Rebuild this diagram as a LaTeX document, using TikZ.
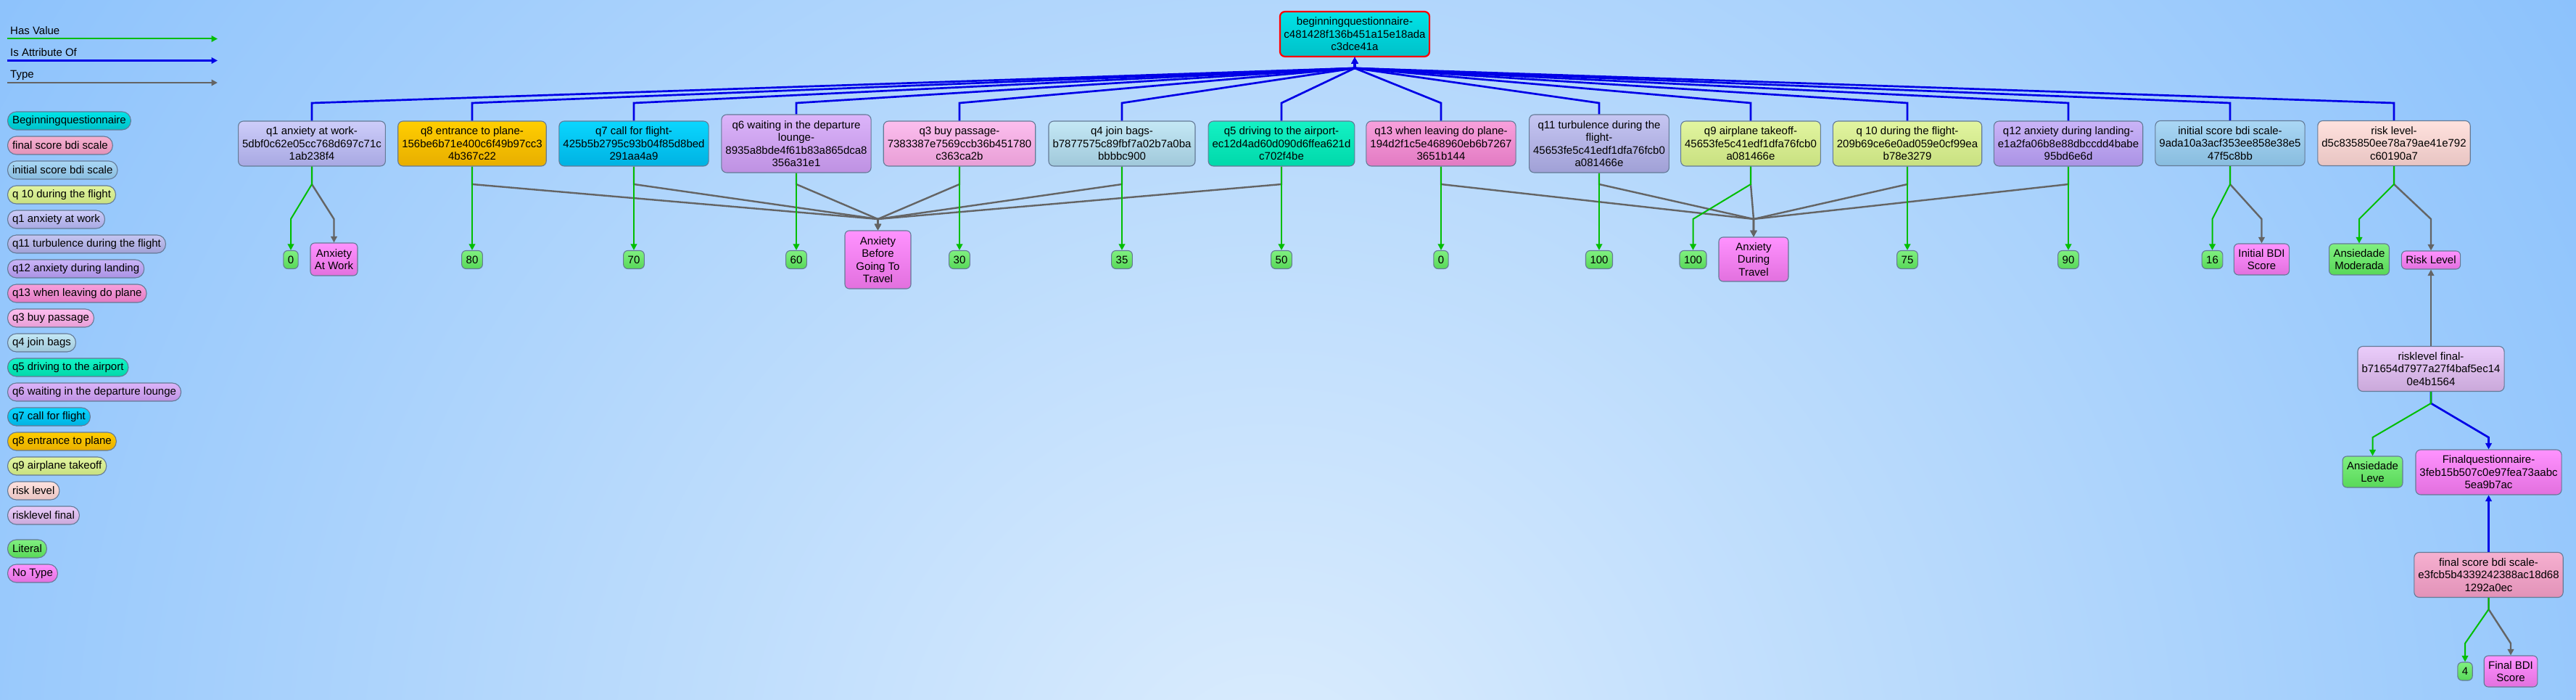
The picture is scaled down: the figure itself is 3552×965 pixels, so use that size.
\documentclass[tikz,border=0pt]{standalone}
\usepackage{fontspec}
\setmainfont{Liberation Sans}
\usepackage{tikz}
\usetikzlibrary{arrows.meta}

\definecolor{bgin}{RGB}{220,237,253}
\definecolor{bgout}{RGB}{110,178,251}
\definecolor{valgreen}{RGB}{0,190,0}
\definecolor{attrblue}{RGB}{0,0,230}
\definecolor{typegray}{RGB}{100,100,100}
\definecolor{boxline}{RGB}{100,122,150}
\definecolor{begT}{RGB}{0,228,232}
\definecolor{begB}{RGB}{0,192,200}
\definecolor{finT}{RGB}{246,176,208}
\definecolor{finB}{RGB}{226,146,184}
\definecolor{iniT}{RGB}{170,215,245}
\definecolor{iniB}{RGB}{136,188,222}
\definecolor{yelT}{RGB}{226,245,160}
\definecolor{yelB}{RGB}{200,224,128}
\definecolor{q1T}{RGB}{205,205,250}
\definecolor{q1B}{RGB}{168,168,226}
\definecolor{q11T}{RGB}{198,198,242}
\definecolor{q11B}{RGB}{160,160,214}
\definecolor{q12T}{RGB}{202,180,248}
\definecolor{q12B}{RGB}{170,146,228}
\definecolor{q13T}{RGB}{248,160,220}
\definecolor{q13B}{RGB}{226,122,194}
\definecolor{q3T}{RGB}{252,190,238}
\definecolor{q3B}{RGB}{232,158,214}
\definecolor{q4T}{RGB}{196,232,245}
\definecolor{q4B}{RGB}{160,200,218}
\definecolor{q5T}{RGB}{20,242,196}
\definecolor{q5B}{RGB}{0,216,170}
\definecolor{q6T}{RGB}{220,180,250}
\definecolor{q6B}{RGB}{190,145,226}
\definecolor{q7T}{RGB}{10,214,255}
\definecolor{q7B}{RGB}{0,178,226}
\definecolor{q8T}{RGB}{255,206,0}
\definecolor{q8B}{RGB}{232,174,0}
\definecolor{riskT}{RGB}{255,226,222}
\definecolor{riskB}{RGB}{232,196,194}
\definecolor{rlfT}{RGB}{234,204,250}
\definecolor{rlfB}{RGB}{202,168,218}
\definecolor{litT}{RGB}{128,240,128}
\definecolor{litB}{RGB}{88,216,88}
\definecolor{noT}{RGB}{255,146,255}
\definecolor{noB}{RGB}{226,112,222}

\newcommand{\entfont}{\fontsize{15}{17.5}\selectfont}

\tikzset{
  ent/.style={draw=boxline,line width=1.1pt,rounded corners=7pt,align=center,
    font=\entfont,inner xsep=5.5pt,inner ysep=2pt,minimum height=62pt},
  lit/.style={ent,top color=litT,bottom color=litB,inner xsep=6pt,
    minimum height=25pt,rounded corners=6pt},
  notype/.style={ent,top color=noT,bottom color=noB,inner xsep=6pt,
    minimum height=25pt,rounded corners=6pt},
  pill/.style={ent,anchor=west,rounded corners=12pt,inner xsep=6.5pt,minimum height=25pt},
  beg/.style={top color=begT,bottom color=begB},
  finsc/.style={top color=finT,bottom color=finB},
  inisc/.style={top color=iniT,bottom color=iniB},
  qten/.style={top color=yelT,bottom color=yelB},
  qnine/.style={top color=yelT,bottom color=yelB},
  qone/.style={top color=q1T,bottom color=q1B},
  qeleven/.style={top color=q11T,bottom color=q11B},
  qtwelve/.style={top color=q12T,bottom color=q12B},
  qthirteen/.style={top color=q13T,bottom color=q13B},
  qthree/.style={top color=q3T,bottom color=q3B},
  qfour/.style={top color=q4T,bottom color=q4B},
  qfive/.style={top color=q5T,bottom color=q5B},
  qsix/.style={top color=q6T,bottom color=q6B},
  qseven/.style={top color=q7T,bottom color=q7B},
  qeight/.style={top color=q8T,bottom color=q8B},
  risklv/.style={top color=riskT,bottom color=riskB},
  riskfin/.style={top color=rlfT,bottom color=rlfB},
  literal/.style={top color=litT,bottom color=litB},
  notyped/.style={top color=noT,bottom color=noB},
  hasval/.style={draw=valgreen,line width=2pt,->},
  isattr/.style={draw=attrblue,line width=2.7pt,->},
  typeof/.style={draw=typegray,line width=2.4pt,->},
}

\begin{document}
\begin{tikzpicture}[x=1pt,y=-1pt,>={Triangle[length=8.5pt,width=8.5pt]}]
  \useasboundingbox (0,0) rectangle (3552,965);
  \begin{scope}
    \clip (0,0) rectangle (3552,965);
    \shade[inner color=bgin,outer color=bgout] (1750,1100) circle (2900pt);
  \end{scope}

  % legend
  \node[anchor=base west,font=\entfont,inner sep=0pt] (lhv) at (14,48) {Has Value};
  \node[anchor=base west,font=\entfont,inner sep=0pt] (lia) at (14,78) {Is Attribute Of};
  \node[anchor=base west,font=\entfont,inner sep=0pt] (lty) at (14,108) {Type};
  \coordinate (lhva) at (10,53.5);
  \coordinate (lhvb) at (300,53.5);
  \coordinate (liaa) at (10,83.5);
  \coordinate (liab) at (300,83.5);
  \coordinate (ltya) at (10,114);
  \coordinate (ltyb) at (300,114);
  \draw[hasval] (lhva) -- (lhvb);
  \draw[isattr] (liaa) -- (liab);
  \draw[typeof] (ltya) -- (ltyb);

  \node[pill,beg] (pbeg) at (10,166.5) {Beginningquestionnaire};
  \node[pill,finsc] (pfin) at (10,200.5) {final score bdi scale};
  \node[pill,inisc] (pini) at (10,234.5) {initial score bdi scale};
  \node[pill,qten] (pq10) at (10,268.5) {q 10 during the flight};
  \node[pill,qone] (pq1) at (10,302.5) {q1 anxiety at work};
  \node[pill,qeleven] (pq11) at (10,336.5) {q11 turbulence during the flight};
  \node[pill,qtwelve] (pq12) at (10,370.5) {q12 anxiety during landing};
  \node[pill,qthirteen] (pq13) at (10,404.5) {q13 when leaving do plane};
  \node[pill,qthree] (pq3) at (10,438.5) {q3 buy passage};
  \node[pill,qfour] (pq4) at (10,472.5) {q4 join bags};
  \node[pill,qfive] (pq5) at (10,506.5) {q5 driving to the airport};
  \node[pill,qsix] (pq6) at (10,540.5) {q6 waiting in the departure lounge};
  \node[pill,qseven] (pq7) at (10,574.5) {q7 call for flight};
  \node[pill,qeight] (pq8) at (10,608.5) {q8 entrance to plane};
  \node[pill,qnine] (pq9) at (10,642.5) {q9 airplane takeoff};
  \node[pill,risklv] (prisk) at (10,676.5) {risk level};
  \node[pill,riskfin] (prlf) at (10,710.5) {risklevel final};
  \node[pill,literal] (plit) at (10,756.5) {Literal};
  \node[pill,notyped] (pnot) at (10,790.5) {No Type};

  % graph
  \coordinate (hub) at (1868,94);
  \coordinate (elbow) at (0,142);
  \coordinate (split) at (0,254);
  \coordinate (bend) at (0,302);

  \node[ent,beg,draw=red,line width=2.2pt] (root) at (1868,47) {beginningquestionnaire-\\c481428f136b451a15e18ada\\c3dce41a};

  \node[ent,qone] (q1) at (430,198) {q1 anxiety at work-\\5dbf0c62e05cc768d697c71c\\1ab238f4};
  \node[ent,qeight] (q8) at (651,198) {q8 entrance to plane-\\156be6b71e400c6f49b97cc3\\4b367c22};
  \node[ent,qseven] (q7) at (874,198) {q7 call for flight-\\425b5b2795c93b04f85d8bed\\291aa4a9};
  \node[ent,qsix,minimum height=80pt] (q6) at (1098,198) {q6 waiting in the departure\\lounge-\\8935a8bde4f61b83a865dca8\\356a31e1};
  \node[ent,qthree] (q3) at (1323,198) {q3 buy passage-\\7383387e7569ccb36b451780\\c363ca2b};
  \node[ent,qfour] (q4) at (1547,198) {q4 join bags-\\b7877575c89fbf7a02b7a0ba\\bbbbc900};
  \node[ent,qfive] (q5) at (1767,198) {q5 driving to the airport-\\ec12d4ad60d090d6ffea621d\\c702f4be};
  \node[ent,qthirteen] (q13) at (1987,198) {q13 when leaving do plane-\\194d2f1c5e468960eb6b7267\\3651b144};
  \node[ent,qeleven,minimum height=80pt] (q11) at (2205,198) {q11 turbulence during the\\flight-\\45653fe5c41edf1dfa76fcb0\\a081466e};
  \node[ent,qnine] (q9) at (2414,198) {q9 airplane takeoff-\\45653fe5c41edf1dfa76fcb0\\a081466e};
  \node[ent,qten] (q10) at (2630,198) {q 10 during the flight-\\209b69ce6e0ad059e0cf99ea\\b78e3279};
  \node[ent,qtwelve] (q12) at (2852,198) {q12 anxiety during landing-\\e1a2fa06b8e88dbccdd4babe\\95bd6e6d};
  \node[ent,inisc] (ini) at (3075,197.5) {initial score bdi scale-\\9ada10a3acf353ee858e38e5\\47f5c8bb};
  \node[ent,risklv] (risk) at (3301,197.5) {risk level-\\d5c835850ee78a79ae41e792\\c60190a7};

  \draw[isattr] (q1.north) -- (q1.north |- elbow) -- (hub) -- (root.south);
  \draw[isattr] (q8.north) -- (q8.north |- elbow) -- (hub) -- (root.south);
  \draw[isattr] (q7.north) -- (q7.north |- elbow) -- (hub) -- (root.south);
  \draw[isattr] (q6.north) -- (q6.north |- elbow) -- (hub) -- (root.south);
  \draw[isattr] (q3.north) -- (q3.north |- elbow) -- (hub) -- (root.south);
  \draw[isattr] (q4.north) -- (q4.north |- elbow) -- (hub) -- (root.south);
  \draw[isattr] (q5.north) -- (q5.north |- elbow) -- (hub) -- (root.south);
  \draw[isattr] (q13.north) -- (q13.north |- elbow) -- (hub) -- (root.south);
  \draw[isattr] (q11.north) -- (q11.north |- elbow) -- (hub) -- (root.south);
  \draw[isattr] (q9.north) -- (q9.north |- elbow) -- (hub) -- (root.south);
  \draw[isattr] (q10.north) -- (q10.north |- elbow) -- (hub) -- (root.south);
  \draw[isattr] (q12.north) -- (q12.north |- elbow) -- (hub) -- (root.south);
  \draw[isattr] (ini.north) -- (ini.north |- elbow) -- (hub) -- (root.south);
  \draw[isattr] (risk.north) -- (risk.north |- elbow) -- (hub) -- (root.south);

  \node[lit] (v1) at (401,358) {0};
  \node[lit] (v8) at (651,358) {80};
  \node[lit] (v7) at (874,358) {70};
  \node[lit] (v6) at (1098,358) {60};
  \node[lit] (v3) at (1323,358) {30};
  \node[lit] (v4b) at (1547,358) {35};
  \node[lit] (v5) at (1767,358) {50};
  \node[lit] (v13) at (1987,358) {0};
  \node[lit] (v11) at (2205,358) {100};
  \node[lit] (v9) at (2334.5,358) {100};
  \node[lit] (v10) at (2630,358) {75};
  \node[lit] (v12) at (2852,358) {90};
  \node[lit] (v16) at (3050.5,358) {16};
  \node[lit,minimum height=43pt] (amod) at (3253,357.5) {Ansiedade\\Moderada};
  \node[notype,minimum height=45pt] (aw) at (460.5,357.5) {Anxiety\\At Work};
  \node[notype,minimum width=91pt,minimum height=80pt] (abt) at (1210.5,358) {Anxiety\\Before\\Going To\\Travel};
  \node[notype,minimum width=96pt,minimum height=61pt] (adt) at (2418,357.5) {Anxiety\\During\\Travel};
  \node[notype,minimum height=43pt] (ibs) at (3118.5,357.5) {Initial BDI\\Score};
  \node[notype] (rlv) at (3352,358.5) {Risk Level};

  \draw[typeof] (q1.south) -- (q1.south |- split) -- (aw.north |- bend) -- (aw.north);
  \draw[typeof] (q8.south) -- (q8.south |- split) -- (abt.north |- bend) -- (abt.north);
  \draw[typeof] (q7.south) -- (q7.south |- split) -- (abt.north |- bend) -- (abt.north);
  \draw[typeof] (q6.south) -- (q6.south |- split) -- (abt.north |- bend) -- (abt.north);
  \draw[typeof] (q3.south) -- (q3.south |- split) -- (abt.north |- bend) -- (abt.north);
  \draw[typeof] (q4.south) -- (q4.south |- split) -- (abt.north |- bend) -- (abt.north);
  \draw[typeof] (q5.south) -- (q5.south |- split) -- (abt.north |- bend) -- (abt.north);
  \draw[typeof] (q13.south) -- (q13.south |- split) -- (adt.north |- bend) -- (adt.north);
  \draw[typeof] (q11.south) -- (q11.south |- split) -- (adt.north |- bend) -- (adt.north);
  \draw[typeof] (q9.south) -- (q9.south |- split) -- (adt.north |- bend) -- (adt.north);
  \draw[typeof] (q10.south) -- (q10.south |- split) -- (adt.north |- bend) -- (adt.north);
  \draw[typeof] (q12.south) -- (q12.south |- split) -- (adt.north |- bend) -- (adt.north);
  \draw[typeof] (ini.south) -- (ini.south |- split) -- (ibs.north |- bend) -- (ibs.north);
  \draw[typeof] (risk.south) -- (risk.south |- split) -- (rlv.north |- bend) -- (rlv.north);

  \draw[hasval] (q1.south) -- (q1.south |- split) -- (v1.north |- bend) -- (v1.north);
  \draw[hasval] (q8.south) -- (v8.north);
  \draw[hasval] (q7.south) -- (v7.north);
  \draw[hasval] (q6.south) -- (v6.north);
  \draw[hasval] (q3.south) -- (v3.north);
  \draw[hasval] (q4.south) -- (v4b.north);
  \draw[hasval] (q5.south) -- (v5.north);
  \draw[hasval] (q13.south) -- (v13.north);
  \draw[hasval] (q11.south) -- (v11.north);
  \draw[hasval] (q9.south) -- (q9.south |- split) -- (v9.north |- bend) -- (v9.north);
  \draw[hasval] (q10.south) -- (v10.north);
  \draw[hasval] (q12.south) -- (v12.north);
  \draw[hasval] (ini.south) -- (ini.south |- split) -- (v16.north |- bend) -- (v16.north);
  \draw[hasval] (risk.south) -- (risk.south |- split) -- (amod.north |- bend) -- (amod.north);

  % final part
  \coordinate (lowsplit) at (0,556);
  \coordinate (lowbend) at (0,603);
  \coordinate (finsplit) at (0,840);
  \coordinate (finbend) at (0,887);

  \node[ent,riskfin] (rlf) at (3352,508.5) {risklevel final-\\b71654d7977a27f4baf5ec14\\0e4b1564};
  \node[lit,minimum height=43pt] (aleve) at (3271.5,650.5) {Ansiedade\\Leve};
  \node[ent,notyped] (finq) at (3431.5,651) {Finalquestionnaire-\\3feb15b507c0e97fea73aabc\\5ea9b7ac};
  \node[ent,finsc] (fsb) at (3431.5,792.5) {final score bdi scale-\\e3fcb5b4339242388ac18d68\\1292a0ec};
  \node[lit] (v4) at (3399,925.5) {4};
  \node[notype,minimum height=43pt] (fbs) at (3462,925.5) {Final BDI\\Score};

  \draw[typeof] (rlf.north) -- (rlv.south);
  \draw[isattr] (rlf.south) -- (rlf.south |- lowsplit) -- (finq.north |- lowbend) -- (finq.north);
  \draw[hasval] (rlf.south) -- (rlf.south |- lowsplit) -- (aleve.north |- lowbend) -- (aleve.north);
  \draw[isattr] (fsb.north) -- (finq.south);
  \draw[typeof] (fsb.south) -- (fsb.south |- finsplit) -- (fbs.north |- finbend) -- (fbs.north);
  \draw[hasval] (fsb.south) -- (fsb.south |- finsplit) -- (v4.north |- finbend) -- (v4.north);
\end{tikzpicture}
\end{document}
